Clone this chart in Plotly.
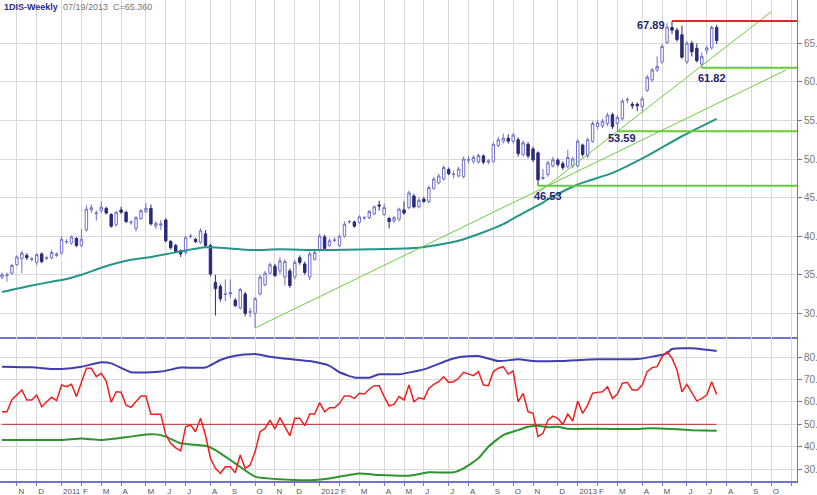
import pandas as pd
import plotly.graph_objects as go

# ---------------- data ----------------
dates = pd.date_range("2010-10-15", periods=145, freq="7D")

opens = [34.7,34.9,35.2,36.3,37.1,37.5,37.0,36.6,37.7,37.15,37.2,37.5,37.8,39.25,39.1,39.7,38.8,40.8,43.4,42.9,
         43.3,43.6,42.8,41.5,43.4,43.1,41.75,41.0,42.3,43.2,43.6,41.3,41.4,42.1,39.3,38.8,38.1,37.9,39.95,39.6,
         39.2,40.3,38.8,34.0,33.5,32.45,32.5,31.7,30.7,32.5,30.15,30.0,32.5,33.7,35.2,36.1,35.5,34.7,35.5,34.7,
         37.2,36.4,34.7,37.0,38.2,39.9,38.8,39.45,38.8,40.0,41.85,41.85,41.8,42.35,42.4,42.9,44.05,42.8,42.3,42.0,
         42.2,43.4,43.7,45.2,43.8,44.8,44.5,46.2,46.9,47.4,48.65,48.0,47.8,47.7,49.85,49.7,49.6,50.4,49.6,49.7,
         51.75,52.3,52.7,52.3,52.5,50.6,51.9,51.3,50.8,47.5,48.0,49.1,49.85,49.4,49.0,49.1,49.1,51.8,50.4,52.3,
         54.2,54.3,54.6,55.75,54.6,55.2,57.65,57.1,57.1,56.8,58.9,60.25,61.55,62.6,65.1,67.05,66.7,66.1,62.6,65.0,
         64.35,62.3,64.1,64.4,67.05]
highs = [35.3,35.3,36.4,37.5,38.1,37.8,37.3,37.8,37.9,37.4,38.2,37.9,40.0,39.6,40.1,39.9,40.9,44.0,44.1,43.3,
         44.5,43.8,43.0,43.3,43.8,43.3,42.1,42.6,43.5,44.3,44.1,41.9,42.1,42.3,39.5,39.0,38.3,40.0,40.3,39.8,
         41.0,40.8,39.0,35.0,33.8,34.4,34.4,32.0,33.3,32.8,30.7,32.1,35.0,35.5,36.6,36.4,37.3,37.0,35.8,36.9,
         37.5,36.7,38.0,38.2,40.3,40.2,39.7,39.8,40.2,41.9,42.1,42.0,42.7,42.6,43.4,44.0,44.6,44.2,42.5,42.6,
         43.7,44.5,45.9,45.5,45.0,45.1,46.6,47.7,48.1,49.2,48.9,48.5,49.0,50.3,50.4,50.5,50.7,50.6,50.0,52.2,
         52.9,53.3,53.2,53.4,52.8,52.4,52.2,51.6,51.0,48.7,49.8,50.3,50.1,49.7,51.2,50.3,52.6,52.0,52.8,54.9,
         55.1,55.2,56.0,56.0,55.7,57.8,58.0,57.4,57.3,58.1,60.9,61.8,63.3,64.9,67.6,67.89,67.0,67.3,65.3,65.3,
         65.0,63.8,64.7,67.3,67.4]
lows = [34.4,34.1,35.0,36.1,35.2,36.9,36.7,36.2,36.5,36.9,37.0,37.3,37.6,39.0,38.9,38.6,38.6,40.6,43.0,42.0,
        43.0,42.8,41.1,41.2,42.9,41.7,41.5,40.6,42.1,43.0,41.4,40.9,40.8,39.2,38.3,37.8,37.3,37.6,39.7,39.1,
        39.0,38.6,34.8,29.7,31.5,31.6,32.0,30.8,30.5,29.6,29.5,28.1,32.3,33.5,35.0,34.7,35.1,33.6,33.3,34.4,
        36.3,35.0,34.3,36.8,38.0,38.2,38.6,39.2,38.6,39.8,41.6,41.1,41.6,42.1,42.2,42.7,43.3,42.6,41.0,41.7,
        41.9,42.8,43.5,43.6,43.6,44.3,44.3,46.0,46.7,47.2,47.9,47.5,47.6,47.5,49.4,49.4,49.4,49.3,49.3,49.5,
        51.5,52.0,52.0,52.0,50.3,50.3,50.1,49.6,46.53,47.3,47.7,48.9,49.0,48.6,48.8,48.8,48.9,50.3,50.1,52.1,
        53.9,54.0,54.3,53.9,53.59,55.0,57.2,56.5,56.2,56.0,58.7,60.0,61.3,62.3,64.9,66.2,65.2,63.0,62.3,63.3,
        62.5,61.82,63.6,64.2,64.9]
closes = [35.0,35.0,36.2,37.3,37.8,37.2,37.05,37.6,36.7,37.2,37.9,37.7,39.6,39.3,39.9,38.8,39.6,43.5,43.7,43.0,
          43.75,43.0,41.3,43.1,43.1,41.9,41.8,42.4,43.3,43.6,41.6,41.65,41.6,39.4,38.5,38.0,37.7,39.8,40.0,39.3,
          40.7,38.8,35.1,33.2,31.9,32.5,32.7,31.0,33.1,30.0,30.2,31.9,34.7,35.2,36.3,34.9,36.8,36.7,33.6,36.6,
          36.6,35.3,37.7,37.9,40.0,38.4,39.4,39.5,40.0,41.55,41.9,41.3,42.5,42.4,43.2,43.8,43.9,43.7,41.9,42.4,
          43.5,43.0,45.6,43.8,44.65,44.5,46.3,47.4,47.8,48.9,48.1,48.05,48.7,50.0,49.9,50.2,50.45,49.6,49.75,51.9,
          52.5,52.7,52.3,53.1,50.7,52.1,50.4,49.9,47.3,47.6,49.5,49.9,49.3,48.9,50.2,50.0,52.3,50.6,52.5,54.6,
          54.7,54.9,55.7,54.2,55.4,57.5,57.7,56.9,56.9,57.8,60.6,61.55,62.0,64.6,67.1,66.7,65.5,63.2,65.0,63.9,
          62.75,63.3,64.4,67.05,65.36]

# moving average (read at sample weeks)
ma_idx = [0,6,10,13,16,20,23,26,30,35,41,46,50,56,64,74,83,88,92,97,101,105,109,110,116,123,130,137,144]
ma_val = [32.75,33.6,34.1,34.45,35.0,35.9,36.5,36.95,37.3,37.9,38.55,38.4,38.2,38.3,38.2,38.3,38.45,38.9,39.4,
          40.5,41.55,43.0,44.35,44.8,46.7,48.2,50.4,52.95,55.2]

# oscillator panel
osc = [55.6,55.6,61.0,63.4,65.4,60.9,60.9,63.1,57.9,60.1,62.1,60.6,67.6,66.8,67.9,62.4,69.1,75.1,75.1,71.3,
       72.8,69.4,59.9,64.6,64.4,58.6,57.6,60.4,62.7,62.7,54.5,54.5,54.5,45.2,41.5,39.5,38.1,48.9,49.7,46.7,
       52.7,45.2,34.8,30.3,28.1,31.0,31.0,28.3,36.3,30.3,31.8,37.8,46.7,48.2,51.9,47.9,53.0,48.9,44.9,52.7,
       52.7,49.4,54.6,54.6,59.7,55.6,57.4,57.4,59.4,62.7,62.7,61.6,63.9,63.6,65.7,67.3,67.3,62.4,58.2,59.0,
       62.4,60.9,67.6,60.1,61.9,61.3,66.1,67.9,69.1,71.3,68.8,69.1,70.6,73.3,72.5,71.8,73.6,67.6,67.3,73.6,
       75.1,75.8,72.5,73.9,60.1,63.9,55.6,54.9,44.5,46.0,51.9,53.7,52.7,50.0,54.6,51.5,60.4,54.9,58.6,63.9,
       64.3,64.6,66.8,61.6,63.6,68.4,68.8,65.4,65.4,67.6,73.6,75.4,75.8,80.3,82.5,79.6,74.3,64.6,67.9,63.9,
       60.4,61.6,63.1,69.1,63.4]
upper_idx = [0,6,10,12,16,20,22,26,32,36,41,44,47,51,54,58,62,66,68,71,74,76,80,85,90,92,96,100,104,107,112,
             120,128,131,134,135,139,141,144]
upper_val = [75.8,75.5,74.8,74.8,75.8,77.8,77.3,73.3,73.6,75.4,75.4,78.8,80.7,81.5,80.3,79.2,78.3,76.2,73.3,
             71.0,70.9,72.4,72.4,74.6,78.8,80.0,80.6,78.3,79.1,78.3,78.3,79.1,79.2,80.3,81.8,83.7,84.0,83.6,82.8]
lower_idx = [0,12,16,20,25,29,31,33,36,41,43,47,51,59,63,66,72,76,82,86,91,93,96,98,101,104,106,108,110,112,
             114,120,127,131,135,139,144]
lower_val = [43.0,43.0,43.7,43.0,44.2,45.5,45.5,44.5,41.5,40.4,38.5,32.5,26.6,25.1,25.1,25.8,28.0,27.3,27.0,
             28.5,28.5,30.3,34.8,40.0,45.2,47.4,48.9,49.4,48.7,48.9,48.0,48.0,47.9,48.2,47.9,47.4,47.1]
mid_level = 50

# support / resistance levels and trend lines
level_idx = [135, 141, 124, 108]
level_val = [67.89, 61.82, 53.59, 46.53]
trend_start = [(51, 28.1), (108, 45.6)]
trend_end = [(158, 61.54), (155, 69.1)]

x_end = pd.Timestamp("2013-11-09 07:00")
x_start = pd.Timestamp("2010-10-12 04:00")

# ---------------- figure ----------------
AX = "#7272cc"
GRID = "#d9d9d9"
NARROW = "Liberation Sans Narrow, Arial Narrow, Arial, sans-serif"
fig = go.Figure()

fig.add_trace(go.Candlestick(
    x=dates, open=opens, high=highs, low=lows, close=closes,
    increasing=dict(line=dict(color="#7070c8", width=1), fillcolor="white"),
    decreasing=dict(line=dict(color="#2a2a78", width=1), fillcolor="#2a2a78"),
    whiskerwidth=0, showlegend=False, xaxis="x", yaxis="y"))

fig.add_trace(go.Scatter(x=dates[ma_idx], y=ma_val, mode="lines",
                         line=dict(color="#23958a", width=2, shape="spline", smoothing=0.6),
                         showlegend=False, xaxis="x", yaxis="y"))

for (i0, p0), (i1, p1) in zip(trend_start, trend_end):
    d1 = dates[0] + pd.Timedelta(days=7 * i1)
    fig.add_trace(go.Scatter(x=[dates[i0], d1], y=[p0, p1], mode="lines",
                             line=dict(color="#6ccc44", width=1), showlegend=False,
                             xaxis="x", yaxis="y"))

for k, (ix, lv) in enumerate(zip(level_idx, level_val)):
    col = "#ee2222" if k == 0 else "#66cc33"
    fig.add_trace(go.Scatter(x=[dates[ix], x_end], y=[lv, lv], mode="lines",
                             line=dict(color=col, width=2), showlegend=False,
                             xaxis="x", yaxis="y"))

# lower panel
fig.add_trace(go.Scatter(x=[dates[0], dates[-1]], y=[mid_level, mid_level], mode="lines",
                         line=dict(color="#b03030", width=1), showlegend=False,
                         xaxis="x2", yaxis="y2"))
fig.add_trace(go.Scatter(x=dates[upper_idx], y=upper_val, mode="lines",
                         line=dict(color="#3f3fb0", width=2, shape="spline", smoothing=0.5),
                         showlegend=False, xaxis="x2", yaxis="y2"))
fig.add_trace(go.Scatter(x=dates[lower_idx], y=lower_val, mode="lines",
                         line=dict(color="#2e922e", width=2, shape="spline", smoothing=0.5),
                         showlegend=False, xaxis="x2", yaxis="y2"))
fig.add_trace(go.Scatter(x=dates, y=osc, mode="lines",
                         line=dict(color="#f02020", width=1.5),
                         showlegend=False, xaxis="x2", yaxis="y2"))

# month ticks: first weekly bar of every month
all_weeks = pd.date_range(dates[0], x_end, freq="7D")
tickvals, ticktext = [], []
seen = set()
for d in all_weeks:
    key = (d.year, d.month)
    if key in seen:
        continue
    seen.add(key)
    if d.day > 7:
        continue
    tickvals.append(d)
    if d.month == 1:
        ticktext.append(str(d.year))
    elif d >= pd.Timestamp("2013-10-25"):
        ticktext.append("")
    else:
        ticktext.append(d.strftime("%b")[0])

split = (481 - 337) / 481.0
fig.update_layout(
    width=817, height=495,
    margin=dict(l=0, r=20, t=0, b=14, autoexpand=False),
    paper_bgcolor="white", plot_bgcolor="white",
    font=dict(family=NARROW, size=10, color="#666666"),
    xaxis=dict(type="date", range=[x_start, x_end], domain=[0, 1], anchor="y",
               tickvals=tickvals, showticklabels=False, showgrid=True, gridcolor=GRID, gridwidth=1,
               showline=True, linecolor=AX, linewidth=2, zeroline=False, automargin=False,
               rangeslider=dict(visible=False), matches="x2"),
    xaxis2=dict(type="date", range=[x_start, x_end], domain=[0, 1], anchor="y2",
                tickvals=tickvals, ticktext=ticktext, ticklabelposition="outside right",
                tickangle=0, automargin=False, ticklabelstandoff=1,
                ticks="outside", ticklen=3, tickcolor=AX, showgrid=True, gridcolor=GRID,
                showline=True, linecolor=AX, linewidth=2, zeroline=False,
                tickfont=dict(size=8, color="#555555", family=NARROW)),
    yaxis=dict(domain=[split, 1], side="right", range=[26.93, 70.61], anchor="x",
               tickvals=[30, 35, 40, 45, 50, 55, 60, 65],
               ticktext=["30.00", "35.00", "40.00", "45.00", "50.00", "55.00", "60.00", "65.00"],
               ticks="outside", ticklen=4, tickcolor=AX, showline=True, linecolor=AX, linewidth=1,
               showgrid=True, gridcolor=GRID, zeroline=False, automargin=False,
               tickfont=dict(size=10, color="#777777", family="Arial, sans-serif")),
    yaxis2=dict(domain=[0, split], side="right", range=[24.63, 89.09], anchor="x2",
                tickvals=[30, 40, 50, 60, 70, 80],
                ticktext=["30.00", "40.00", "50.00", "60.00", "70.00", "80.00"],
                ticks="outside", ticklen=4, tickcolor=AX, showline=True, linecolor=AX, linewidth=1,
                showgrid=True, gridcolor=GRID, zeroline=False, automargin=False,
                tickfont=dict(size=10, color="#777777", family="Arial, sans-serif")),
)

# title
fig.add_annotation(xref="paper", yref="paper", x=0.002, y=1.0, xanchor="left", yanchor="top",
                   showarrow=False,
                   text="<b><span style='color:#2b2b8c'>1DIS-Weekly</span></b>"
                        "&nbsp;&nbsp;<span style='color:#777777'>07/19/2013&nbsp;&nbsp;C=65.360</span>",
                   font=dict(size=9, family=NARROW))

# level labels
lab_font = dict(size=11, color="#24246e", family="Arial, sans-serif")
fig.add_annotation(x=dates[134], y=67.37, xref="x", yref="y", text="<b>67.89</b>", showarrow=False,
                   xanchor="right", yanchor="middle", font=lab_font)
fig.add_annotation(x=dates[143], y=60.5, xref="x", yref="y", text="<b>61.82</b>", showarrow=False,
                   xanchor="center", yanchor="middle", font=lab_font)
fig.add_annotation(x=dates[124] + pd.Timedelta(days=7), y=52.75, xref="x", yref="y", text="<b>53.59</b>",
                   showarrow=False, xanchor="center", yanchor="middle", font=lab_font)
fig.add_annotation(x=dates[110], y=45.2, xref="x", yref="y", text="<b>46.53</b>", showarrow=False,
                   xanchor="center", yanchor="middle", font=lab_font)

fig.write_html("out.html")
